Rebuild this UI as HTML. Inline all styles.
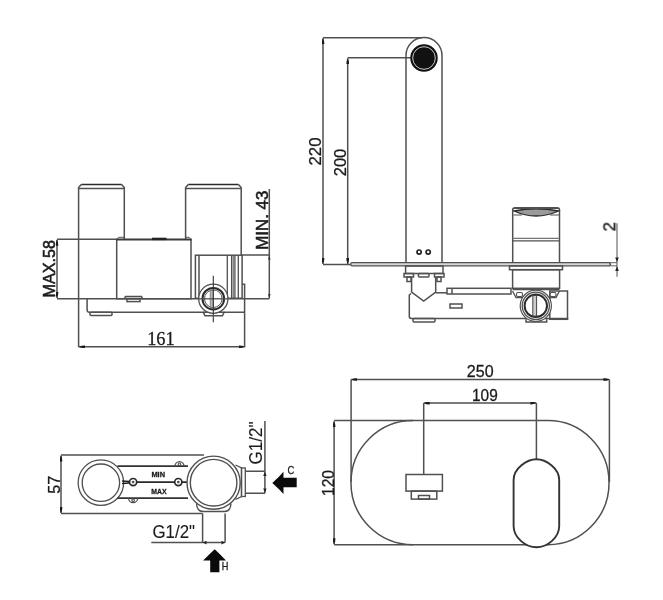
<!DOCTYPE html>
<html><head><meta charset="utf-8">
<style>
html,body{margin:0;padding:0;background:#fff;width:663px;height:600px;overflow:hidden}
svg{position:absolute;left:0;top:0}
text{font-family:"Liberation Sans",sans-serif;fill:#1a1a1a;stroke:#1a1a1a;stroke-width:0.3}
.sf{font-family:"Liberation Serif",serif}
</style></head><body>
<svg width="663" height="600" viewBox="0 0 663 600">
<defs>
<marker id="ar" viewBox="0 0 6 3" refX="6" refY="1.5" markerWidth="6" markerHeight="3" orient="auto-start-reverse" markerUnits="userSpaceOnUse">
<path d="M0,0.2 Q3,0 6,1.5 Q3,3 0,2.8 z" fill="#1a1a1a"/>
</marker>
</defs>
<g fill="none" stroke="#505050" stroke-width="1.5">

<!-- ============ FRONT VIEW (top-left) ============ -->
<!-- left cylinder -->
<path d="M78.6,347.3 V187.6 L81.3,184.6 M121.6,184.6 L124.3,187.6 V238.9"/>
<line x1="81.3" y1="184.5" x2="121.6" y2="184.5" stroke="#2a2a2a" stroke-width="1.7"/>
<line x1="79" y1="188.5" x2="124" y2="188.5"/>
<!-- right cylinder -->
<path d="M185.6,238.9 V187.6 L188.3,184.6 M238.5,184.6 L241.2,187.6 V255"/>
<line x1="188.3" y1="184.5" x2="238.5" y2="184.5" stroke="#2a2a2a" stroke-width="1.7"/>
<line x1="186" y1="188.5" x2="241" y2="188.5"/>
<!-- center box -->
<path d="M116.7,239.3 V298.8 H191 V239.3" stroke-width="1.5"/>
<line x1="116" y1="239.4" x2="191.7" y2="239.4" stroke="#3a3a3a" stroke-width="2"/>
<line x1="152" y1="238.9" x2="166.5" y2="238.9" stroke="#222" stroke-width="2.4"/>
<path d="M116.7,239.3 L118.5,237.3 H124.4 M191,239.3 L189.2,237.3 H185.6" stroke-width="1"/>
<!-- bottom tab -->
<path d="M124.5,298.6 L125.5,296.6 H141.5 L142.5,298.6"/>
<rect x="127" y="298.6" width="13" height="3" />
<!-- MAX.58 dim -->
<line x1="57" y1="239.2" x2="116.7" y2="239.2"/>
<line x1="57" y1="298.8" x2="269.3" y2="298.8"/>
<line x1="57" y1="239.7" x2="57" y2="298" marker-start="url(#ar)" marker-end="url(#ar)"/>
<!-- bracket -->
<path d="M87.1,298.5 V310 Q87.1,312.3 89.5,312.3 H244.6"/>
<rect x="90" y="312.3" width="22" height="3.3" rx="1"/>
<!-- valve body -->
<rect x="195.4" y="255.2" width="46.7" height="43.1"/>
<line x1="199" y1="255.2" x2="199" y2="298.3"/>
<line x1="227.3" y1="255.2" x2="227.3" y2="298.3" stroke-width="1.3"/>
<line x1="231.6" y1="255.2" x2="231.6" y2="298.3" stroke-width="1.3"/>
<line x1="233.2" y1="255.2" x2="233.2" y2="298.3" stroke-width="1"/>
<line x1="234.9" y1="255.2" x2="234.9" y2="298.3" stroke-width="1.3"/>
<line x1="238.3" y1="255.2" x2="238.3" y2="298.3" stroke-width="1.3"/>
<path d="M242.1,284.2 H244.6 V347.3"/>
<!-- fitting circle -->
<circle cx="213.3" cy="298.7" r="14.6" fill="#fff" stroke-width="1.3"/>
<circle cx="213.3" cy="298.7" r="10.8" stroke="#2a2a2a" stroke-width="2"/>
<circle cx="213.3" cy="298.7" r="8.8" stroke-width="1"/>
<rect x="210.2" y="290.5" width="3" height="17" fill="#bbb" stroke="#777" stroke-width="0.8"/>
<line x1="199" y1="298.8" x2="227.6" y2="298.8" stroke-width="1.3"/>
<line x1="213.3" y1="275.7" x2="213.3" y2="322.3" stroke="#333" stroke-width="1.1"/>
<path d="M203,311.8 L205,315.7 H222.5 L224.3,311.8"/>
<!-- MIN.43 dim -->
<line x1="242.1" y1="255" x2="269.3" y2="255"/>
<line x1="269.3" y1="189" x2="269.3" y2="298.5"/>
<path d="M268.1,259.5 L269.3,255.3 L270.5,259.5 z M268.1,294 L269.3,298.3 L270.5,294 z" fill="#333" stroke="none"/>
<!-- 161 dim -->
<line x1="79" y1="346.7" x2="244.6" y2="346.7" marker-start="url(#ar)" marker-end="url(#ar)"/>

<!-- ============ SIDE VIEW (top-right) ============ -->
<!-- 220 -->
<line x1="323" y1="37.7" x2="422" y2="37.7"/>
<line x1="323" y1="38.2" x2="323" y2="264" marker-start="url(#ar)" marker-end="url(#ar)"/>
<line x1="323" y1="264.5" x2="351" y2="264.5"/>
<!-- 200 -->
<line x1="347.7" y1="57.8" x2="411" y2="57.8"/>
<line x1="347.7" y1="58.3" x2="347.7" y2="264" marker-start="url(#ar)" marker-end="url(#ar)"/>
<!-- spout -->
<path d="M406,262.3 V55.5 A18,18 0 0 1 442,55.5 V262.3"/>
<circle cx="424" cy="58" r="13" fill="#111" stroke="#111"/>
<circle cx="424" cy="58" r="11.3" stroke="#ddd" stroke-width="0.9"/>
<circle cx="419.1" cy="252.1" r="2.1" stroke="#222" stroke-width="1.7"/>
<circle cx="428.2" cy="252.1" r="2.1" stroke="#222" stroke-width="1.7"/>
<!-- wall plate -->
<path d="M352,262.7 H609.3 L610.6,264.25 L609.3,265.8 H352 Q350.8,265.8 350.8,264.25 Q350.8,262.7 352,262.7 z" fill="#d8d8d8" stroke-width="1.3"/>
<path d="M609.5,262.7 H617 M609.5,265.8 H617" stroke-width="0.9"/>
<!-- 2 dim -->
<line x1="617" y1="223.3" x2="617" y2="276.7" stroke-width="1"/>
<path d="M615.2,257.5 L617,262 L618.8,257.5 z M615.2,271 L617,266.3 L618.8,271 z" fill="#222" stroke="none"/>
<!-- under spout body -->
<rect x="405.6" y="266" width="37.4" height="7.5"/>
<rect x="404" y="273.5" width="9.5" height="3.5"/>
<rect x="434.5" y="273.5" width="9.5" height="3.5"/>
<rect x="407" y="277" width="4" height="4.5"/>
<rect x="437" y="277" width="4" height="4.5"/>
<rect x="418.4" y="273.5" width="10.6" height="3.5" rx="1"/>
<path d="M411.6,277 V292 L423.7,301 L435.7,292 V277"/>
<path d="M411,293.5 L409.3,295 V316.5 Q409.3,318.4 411.5,318.4 H568.3"/>
<path d="M435.7,292.8 H447"/>
<rect x="447" y="288.3" width="64" height="5.7"/>
<line x1="452" y1="288.3" x2="452" y2="294"/>
<rect x="450" y="304" width="12" height="4"/>
<rect x="413" y="318.4" width="22" height="3.6" rx="1"/>
<!-- handle side -->
<path d="M512.7,262.3 V210 Q512.7,207.7 515,207.7 H557 Q559.5,207.7 559.5,210 V262.3"/>
<path d="M514,211 Q536,206.5 558.5,211 Q536,221 514,211 z" fill="#9a9a9a" stroke="#2a2a2a" stroke-width="1.3"/>
<path d="M513.2,208.5 H559 M513.5,215 H522 M550,215 H559" stroke-width="1"/>
<line x1="513.5" y1="238.3" x2="558.7" y2="238.3" stroke-width="1"/>
<line x1="512.7" y1="240.8" x2="559.5" y2="240.8" stroke-width="1.3"/>
<rect x="509.5" y="265.9" width="53" height="3.8"/>
<rect x="512.6" y="269.7" width="47" height="18.6"/>
<line x1="512.6" y1="289.3" x2="559.5" y2="289.3" stroke-width="2"/>
<!-- fitting side -->
<rect x="549.8" y="291" width="17.7" height="28.3"/>
<path d="M512.5,291 L516,297.5 H522.5 M559.5,291 L556,297.5 H549.5" stroke-width="1.3"/>
<rect x="516.5" y="292.5" width="6" height="4" rx="1.5" stroke-width="1.1"/>
<rect x="550" y="292.5" width="6" height="4" rx="1.5" stroke-width="1.1"/>
<circle cx="535.8" cy="305.8" r="15.6" fill="#fff" stroke-width="1.2"/>
<circle cx="535.8" cy="305.8" r="13.6" stroke-width="1.3"/>
<circle cx="535.8" cy="305.8" r="11.2" stroke="#2a2a2a" stroke-width="2"/>
<rect x="532.8" y="295.5" width="3.8" height="20.5" fill="#ccc" stroke="#444" stroke-width="1"/>
<path d="M526,319.2 V322 H546.7 V319.2"/>

<!-- ============ PLAN VIEW (bottom-left) ============ -->
<line x1="61" y1="455" x2="204" y2="455"/>
<line x1="61" y1="513.6" x2="202.6" y2="513.6"/>
<line x1="61" y1="455.5" x2="61" y2="513" marker-start="url(#ar)" marker-end="url(#ar)"/>
<circle cx="100.9" cy="482.7" r="22.75" stroke-width="1.3"/>
<circle cx="100.9" cy="482.7" r="18.7" stroke-width="1.3"/>
<!-- center bar -->
<line x1="117.4" y1="466.1" x2="188" y2="466.1" stroke="#333" stroke-width="1.7"/>
<line x1="117.4" y1="498.2" x2="188" y2="498.2" stroke="#333" stroke-width="1.7"/>
<path d="M122,481 L129.5,481.5 M122,483.5 L129.5,483" stroke="#222" stroke-width="1.3"/>
<path d="M136.5,482.1 H175 M182,482.1 H187" stroke="#2a2a2a" stroke-width="1.9"/>
<circle cx="133.1" cy="482.1" r="3.6" stroke="#2a2a2a" stroke-width="1.7"/>
<circle cx="133.1" cy="482.1" r="1.4" fill="#555" stroke="none"/>
<circle cx="178.3" cy="482.1" r="3.6" stroke="#2a2a2a" stroke-width="1.7"/>
<circle cx="178.3" cy="482.1" r="1.4" fill="#555" stroke="none"/>
<path d="M175,466.1 A4.5,4.5 0 0 1 184,466.1" stroke-width="1.3"/>
<circle cx="179.5" cy="464.3" r="1.3" stroke-width="1.1"/>
<path d="M128.6,498.2 A4.5,4.5 0 0 0 137.6,498.2" stroke-width="1.3"/>
<circle cx="133.1" cy="500.2" r="1.3" stroke-width="1.1"/>
<!-- right valve -->
<circle cx="213.6" cy="482.7" r="26.6" fill="#fff" stroke-width="1.4"/>
<circle cx="213.6" cy="482.7" r="23.3" stroke-width="1.4"/>
<path d="M235.5,465 L241.5,468 V496.5 L235.5,499.5" stroke-width="1.3"/>
<rect x="241.5" y="468" width="3.8" height="28.5" stroke-width="1.3"/>
<path d="M245.3,471.3 H264.9 M245.3,493.3 H264.9"/>
<line x1="264.9" y1="421" x2="264.9" y2="493.3"/>
<path d="M263.2,476 L264.9,471.8 L266.6,476 z M263.2,488.5 L264.9,492.8 L266.6,488.5 z" fill="#222" stroke="none"/>
<path d="M196.5,503.5 Q197,511.5 203,511.5 H224.5 Q230.5,511.5 231,503.5" stroke-width="1.4"/>
<path d="M202.6,513.6 V542.6 M225.1,513.6 V542.6"/>
<line x1="151.3" y1="542.6" x2="225.1" y2="542.6"/>
<path d="M206.5,540.8 L202.9,542.6 L206.5,544.4 z M221.5,540.8 L225,542.6 L221.5,544.4 z" fill="#222" stroke="none"/>

<!-- ============ FRONT PLATE (bottom-right) ============ -->
<line x1="351.1" y1="379.5" x2="609.3" y2="379.5" stroke-width="1.4" marker-start="url(#ar)" marker-end="url(#ar)"/>
<line x1="351.1" y1="379.5" x2="351.1" y2="482"/>
<line x1="609.4" y1="379.5" x2="609.4" y2="482"/>
<line x1="423.7" y1="403.1" x2="536.4" y2="403.1" marker-start="url(#ar)" marker-end="url(#ar)"/>
<line x1="423.7" y1="403.1" x2="423.7" y2="474.4"/>
<line x1="536.4" y1="403.1" x2="536.4" y2="459.3"/>
<line x1="334.1" y1="420.6" x2="413" y2="420.6"/>
<line x1="334.1" y1="544.7" x2="413" y2="544.7"/>
<line x1="334.1" y1="421.2" x2="334.1" y2="544.2" marker-start="url(#ar)" marker-end="url(#ar)"/>
<path d="M413,420.6 H548 A61,62 0 0 1 548,544.7 H413 A62,62 0 0 1 413,420.6 z"/>
<rect x="406" y="474.5" width="36.4" height="16.6"/>
<rect x="411.3" y="491.1" width="25.5" height="8"/>
<rect x="418.5" y="495.5" width="11" height="3.5"/>
<path d="M536.4,459.3 C527,459.3 513.6,468 513.6,480 V526 C513.6,538 526,547.2 536.4,547.2 C547,547.2 559.2,538 559.2,526 V480 C559.2,468 546,459.3 536.4,459.3 z" fill="#fff" stroke="#333" stroke-width="1.9"/>
</g>

<!-- C and H arrows -->
<path d="M272.3,483 Q279,477 283.5,471.7 V477.7 H296.7 V487.3 H283.5 V493.9 Q279,489 272.3,483 z" fill="#0a0a0a"/>
<path d="M214.7,549.2 Q220,554 226,560.5 H219.4 V572.3 H210.2 V560.5 H203.1 Q209.5,554 214.7,549.2 z" fill="#0a0a0a"/>

<!-- texts -->
<g opacity="0.995">
<text x="0" y="0" font-size="17" text-anchor="middle" textLength="57.6" lengthAdjust="spacingAndGlyphs" style="stroke-width:0.55" transform="translate(54.7 268.7) rotate(-90)">MAX.58</text>
<text x="0" y="0" font-size="17" text-anchor="middle" textLength="59" lengthAdjust="spacingAndGlyphs" style="stroke-width:0.55" transform="translate(268.3 220.2) rotate(-90)">MIN. 43</text>
<text class="sf" x="160.9" y="345" font-size="18" text-anchor="middle" textLength="27.5" lengthAdjust="spacingAndGlyphs">161</text>
<text x="0" y="0" font-size="17" text-anchor="middle" textLength="28" lengthAdjust="spacingAndGlyphs" transform="translate(320.5 151.5) rotate(-90)">220</text>
<text x="0" y="0" font-size="17" text-anchor="middle" textLength="27.5" lengthAdjust="spacingAndGlyphs" transform="translate(345.9 162.5) rotate(-90)">200</text>
<text x="0" y="0" font-size="17" text-anchor="middle" transform="translate(615.3 226.7) rotate(-90)">2</text>
<text x="0" y="0" font-size="17" text-anchor="middle" textLength="18" lengthAdjust="spacingAndGlyphs" transform="translate(60 484.8) rotate(-90)">57</text>
<text x="0" y="0" font-size="18" style="stroke-width:0.1" text-anchor="middle" textLength="43" lengthAdjust="spacingAndGlyphs" transform="translate(261.5 443) rotate(-90)">G1/2"</text>
<text x="0" y="0" font-size="17" text-anchor="middle" textLength="26" lengthAdjust="spacingAndGlyphs" transform="translate(333.7 483) rotate(-90)">120</text>
<text x="480.2" y="377.3" font-size="17" text-anchor="middle" textLength="26.8" lengthAdjust="spacingAndGlyphs">250</text>
<text x="484.85" y="401.1" font-size="17" text-anchor="middle" textLength="25.7" lengthAdjust="spacingAndGlyphs">109</text>
<text x="173.75" y="538.1" font-size="18" style="stroke-width:0.1" text-anchor="middle" textLength="42.5" lengthAdjust="spacingAndGlyphs">G1/2"</text>
<text x="158.2" y="477" font-size="8" font-weight="bold" text-anchor="middle" textLength="13.6" lengthAdjust="spacingAndGlyphs">MIN</text>
<text x="159" y="493.9" font-size="8" font-weight="bold" text-anchor="middle" textLength="15.3" lengthAdjust="spacingAndGlyphs">MAX</text>
<text x="290.9" y="474.4" font-size="11.5" text-anchor="middle" textLength="6.8" lengthAdjust="spacingAndGlyphs">C</text>
<text x="225" y="570" font-size="10.5" text-anchor="middle" textLength="6.6" lengthAdjust="spacingAndGlyphs">H</text>
</g>
</svg>
</body></html>
